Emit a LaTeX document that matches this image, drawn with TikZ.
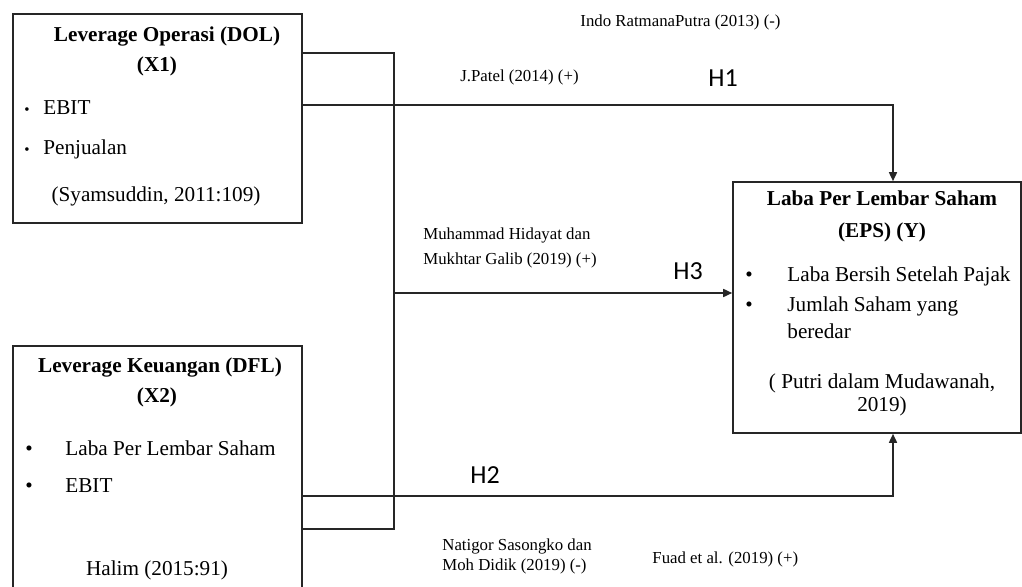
\documentclass[tikz,border=0pt]{standalone}
\usepackage{fontspec}
\setmainfont{Liberation Serif}
\newfontfamily\hfont{Carlito}
\usetikzlibrary{arrows.meta,positioning,calc}

\begin{document}
\begin{tikzpicture}[x=0.5pt,y=-0.5pt,
        box/.style={draw=black!85,line width=0.8pt,inner sep=0pt},
        hd/.style={inner sep=0pt,anchor=base,font=\fontsize{10.6}{12}\selectfont\bfseries},
        tx/.style={inner sep=0pt,anchor=base,font=\fontsize{10.6}{12}\selectfont},
        tl/.style={inner sep=0pt,anchor=base west,font=\fontsize{10.6}{12}\selectfont},
        bl/.style={inner sep=0pt,anchor=base,font=\fontsize{10.6}{12}\selectfont},
        sb/.style={inner sep=0pt,anchor=base,font=\fontsize{7.5}{8}\selectfont},
        ref/.style={inner sep=0pt,anchor=base west,font=\fontsize{8.4}{10}\selectfont},
        hy/.style={inner sep=0pt,anchor=base west,font=\hfont\fontsize{13}{15}\selectfont},
        ln/.style={draw=black!85,line width=0.8pt},
        arr/.style={ln,-{Triangle[length=4.5pt,width=4pt]}}
      ]
        \fill[white] (0,0) rectangle (1022,587);
        \useasboundingbox (0,0) rectangle (1022,587);

        % variable boxes
        \node[box,minimum width=144.5pt,minimum height=104.5pt] (x1) at (157.5,118.5) {};
        \node[box,minimum width=144.5pt,minimum height=132pt] (x2) at (157.5,478) {};
        \node[box,minimum width=144pt,minimum height=125.5pt] (y) at (877,307.5) {};

        % X1
        \node[hd] (x1a) at (167,42) {Leverage Operasi (DOL)};
        \node[hd] (x1b) at (157,72) {(X1)};
        \node[sb] (x1p) at (27,115) {\textbullet};
        \node[tl] (x1c) at (43,115) {EBIT};
        \node[sb] (x1q) at (27,155) {\textbullet};
        \node[tl] (x1d) at (43,155) {Penjualan};
        \node[tx] (x1e) at (156,202) {(Syamsuddin, 2011:109)};

        % X2
        \node[hd] (x2a) at (160,372) {Leverage Keuangan (DFL)};
        \node[hd] (x2b) at (157,402) {(X2)};
        \node[bl] (x2p) at (29,455) {\textbullet};
        \node[tl] (x2c) at (65,455) {Laba Per Lembar Saham};
        \node[bl] (x2q) at (29,492) {\textbullet};
        \node[tl] (x2d) at (65,492) {EBIT};
        \node[tx] (x2e) at (157,575) {Halim (2015:91)};

        % Y
        \node[hd] (ya) at (882,206) {Laba Per Lembar Saham};
        \node[hd] (yb) at (882,238) {(EPS) (Y)};
        \node[bl] (yp) at (749,282) {\textbullet};
        \node[tl] (yc) at (787,282) {Laba Bersih Setelah Pajak};
        \node[bl] (yq) at (749,312) {\textbullet};
        \node[tl] (yd) at (787,312) {Jumlah Saham yang};
        \node[tl] (ye) at (787,339) {beredar};
        \node[tx] (yf) at (882,388) {( Putri dalam Mudawanah,};
        \node[tx] (yg) at (882,412) {2019)};

        % references and hypotheses
        \node[ref] (r1) at (580,27) {Indo RatmanaPutra (2013) (-)};
        \node[ref] (r2) at (460,82) {J.Patel (2014) (+)};
        \node[hy] (h1l) at (708,87) {H1};
        \node[ref] (r3a) at (423,240) {Muhammad Hidayat dan};
        \node[ref] (r3b) at (423,265) {Mukhtar Galib (2019) (+)};
        \node[hy] (h3l) at (673,280) {H3};
        \node[hy] (h2l) at (470,483) {H2};
        \node[ref] (r4a) at (442,550) {Natigor Sasongko dan};
        \node[ref] (r4b) at (442,570) {Moh Didik (2019) (-)};
        \node[ref] (r5) at (652,563) {Fuad et al. (2019) (+)};

        % connectors
        \coordinate (b1) at (394,53);
        \coordinate (b2) at (394,529);
        \coordinate (h1) at (893,105);
        \coordinate (h2) at (893,496);
        \coordinate (h3) at (394,293);

        \draw[ln] (x1.east |- b1)--(b1)--(b2)--(x2.east |- b2);
        \draw[arr] (x1.east |- h1) -| (y.north -| h1);
        \draw[arr] (x2.east |- h2) -| (y.south -| h2);
        \draw[arr] (h3)--(y.west |- h3);
      \end{tikzpicture}
\end{document}
